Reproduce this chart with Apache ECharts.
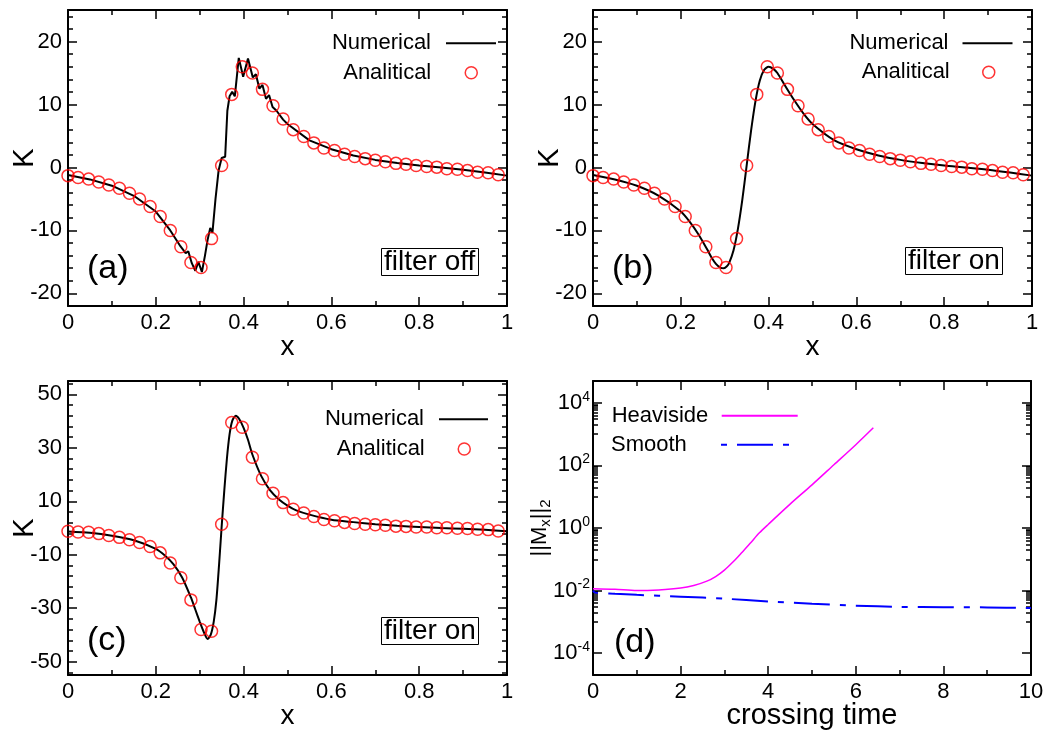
<!DOCTYPE html>
<html><head><meta charset="utf-8">
<script src="https://cdn.jsdelivr.net/npm/echarts@6/dist/echarts.min.js"></script>
<style>html,body{margin:0;padding:0;background:#fff}#c{width:1056px;height:731px}</style>
</head><body><div id="c"></div>
<script>
const FONT = '"Liberation Sans", Arial, Helvetica, sans-serif';

// ---- analytical points (shared x positions) ----
const anaX = [0,0.023,0.047,0.070,0.093,0.117,0.140,0.163,0.187,0.210,0.233,0.257,0.280,0.303,0.327,0.350,0.373,0.397,0.420,0.443,0.467,0.490,0.513,0.537,0.560,0.583,0.607,0.630,0.653,0.677,0.700,0.723,0.747,0.770,0.793,0.817,0.840,0.863,0.887,0.910,0.933,0.957,0.980];
const anaAB = [-1.3,-1.6,-1.85,-2.3,-2.8,-3.3,-4.1,-5.0,-6.2,-7.8,-10.0,-12.6,-15.1,-15.9,-11.3,0.3,11.6,16.0,15.0,12.4,9.8,7.7,6.0,4.9,3.9,3.1,2.7,2.1,1.75,1.4,1.15,0.9,0.65,0.5,0.3,0.15,0.05,-0.2,-0.3,-0.5,-0.75,-0.85,-1.15];
const anaC = [-1.2,-1.5,-1.6,-2.1,-2.8,-3.5,-4.4,-5.4,-6.9,-9.3,-13.1,-18.6,-26.9,-38.0,-38.6,1.4,39.5,37.7,26.5,18.4,13.0,9.5,7.0,5.6,4.3,3.2,2.7,2.1,1.7,1.4,1.2,1.0,0.7,0.6,0.4,0.4,0.1,0.1,-0.1,-0.2,-0.5,-0.6,-1.1];

// ---- numerical curves ----
const numAx = [0,0.05,0.1,0.15,0.2,0.233,0.256,0.268,0.274,0.282,0.290,0.297,0.305,0.312,0.318,0.324,0.329,0.336,0.343,0.350,0.358,0.363,0.368,0.374,0.380,0.389,0.399,0.410,0.421,0.428,0.436,0.443,0.451,0.458,0.466,0.475,0.49,0.5,0.55,0.6,0.65,0.7,0.75,0.8,0.85,0.9,0.95,1.0];
const numAy = [-1.2,-1.9,-2.9,-4.5,-7.0,-10.0,-12.5,-13.6,-13.3,-15.2,-16.4,-15.0,-16.6,-14.0,-11.5,-9.6,-10.4,-5.0,-0.5,1.5,1.7,9.0,11.3,12.0,11.3,17.4,14.4,17.3,14.3,14.8,12.5,13.1,10.9,11.5,9.6,9.0,7.6,6.9,4.3,2.9,1.9,1.2,0.7,0.3,0.0,-0.35,-0.8,-1.3];
const numBx = [0,0.05,0.1,0.15,0.2,0.22,0.24,0.26,0.27,0.28,0.29,0.298,0.305,0.31,0.32,0.33,0.34,0.35,0.36,0.37,0.38,0.39,0.40,0.41,0.42,0.44,0.46,0.48,0.5,0.55,0.6,0.65,0.7,0.75,0.8,0.85,0.9,0.95,1.0];
const numBy = [-1.2,-1.9,-2.9,-4.5,-7.0,-8.6,-10.6,-13.0,-14.3,-15.3,-15.9,-16.0,-15.7,-15.2,-13.2,-9.8,-5.2,0.3,5.8,10.5,13.8,15.5,16.0,15.7,15.0,12.7,10.5,8.5,6.9,4.3,2.9,1.9,1.2,0.7,0.3,0.0,-0.35,-0.8,-1.3];
const numCx = [0,0.05,0.1,0.15,0.2,0.22,0.24,0.26,0.28,0.29,0.30,0.31,0.318,0.325,0.332,0.338,0.344,0.350,0.356,0.362,0.368,0.374,0.382,0.39,0.40,0.41,0.42,0.44,0.46,0.48,0.5,0.52,0.55,0.6,0.65,0.7,0.75,0.8,0.85,0.9,0.95,1.0];
const numCy = [-1.3,-1.8,-2.9,-4.6,-7.8,-10.2,-13.5,-18.5,-26.0,-30.5,-35.0,-39.2,-41.5,-40.0,-35.0,-27.0,-14.0,0.5,14.0,26.0,35.0,40.0,42.0,40.8,37.5,33.0,27.5,19.5,14.2,10.8,8.4,6.6,5.0,3.1,2.2,1.4,0.8,0.4,0.0,-0.3,-0.7,-1.2];

// ---- panel (d) ----
const heavT = [0,0.5,1.0,1.5,2.0,2.3,2.6,2.8,3.0,3.2,3.4,3.6,3.8,4.0,4.5,5.0,5.5,6.0,6.4];
const heavV = [1.15e-2,1.1e-2,1.0e-2,1.05e-2,1.2e-2,1.45e-2,2.0e-2,2.8e-2,4.5e-2,8.3e-2,0.166,0.34,0.7,1.3,5.8,24,105,460,1600];
const smoothT = [0,0.05,0.5,1,2,3,4,5,6,7,8,9,10];
const smoothV = [1.0e-2,8.6e-3,7.9e-3,7.3e-3,6.4e-3,5.5e-3,4.5e-3,3.8e-3,3.3e-3,3.0e-3,2.95e-3,2.9e-3,2.75e-3];

// ---- ticks ----
const xMajorK = [0,0.2,0.4,0.6,0.8,1];
const xMinorK = [0.1,0.3,0.5,0.7,0.9];
const yMajorAB = [-20,-10,0,10,20];
const yMinorAB = [-18,-16,-14,-12,-8,-6,-4,-2,2,4,6,8,12,14,16,18,22,24];
const yMajorC = [-50,-30,-10,10,30,50];
const yMinorC = [-54,-46,-42,-38,-34,-26,-22,-18,-14,-6,-2,2,6,14,18,22,26,34,38,42,46,54];
const xMajorD = [0,2,4,6,8,10];
const xMinorD = [1,3,5,7,9];
const yMajorD = [1e-4,1e-2,1,1e2,1e4];
const yMinorD = [];
[-4,-2,0,2].forEach(n => { for (let k = 1; k <= 9; k++) yMinorD.push(+(k * Math.pow(10, n + 1)).toPrecision(3)); });

const zip = (a, b) => a.map((v, i) => [v, b[i]]);

function makeAxes(dim, g, o) {
  const mainPos = dim === 'x' ? 'bottom' : 'left';
  const mirPos = dim === 'x' ? 'top' : 'right';
  const base = { gridIndex: g, type: o.type || 'value', min: o.min, max: o.max, splitLine: { show: false }, silent: true };
  if (o.type === 'log') base.logBase = 10;
  const ts = { color: '#000', width: 1.5 };
  const line = { show: true, onZero: false, lineStyle: { color: '#000', width: 2 } };
  const noLine = { show: false, onZero: false };
  return [
    Object.assign({}, base, {
      position: mainPos, axisLine: line,
      axisTick: { show: true, inside: true, length: 9, lineStyle: ts, customValues: o.majors },
      axisLabel: { show: true, customValues: o.majors, margin: o.margin, color: '#000', fontSize: 22, fontFamily: FONT, formatter: o.fmt, rich: o.rich },
      name: o.name, nameLocation: 'middle', nameGap: o.nameGap, nameRotate: dim === 'y' ? 90 : 0, nameMoveOverlap: false,
      nameTextStyle: Object.assign({ color: '#000', fontFamily: FONT, fontSize: o.nameSize || 28 }, o.nameStyle || {})
    }),
    Object.assign({}, base, { position: mainPos, axisLine: noLine, axisTick: { show: true, inside: true, length: 5, lineStyle: ts, customValues: o.minors }, axisLabel: { show: false } }),
    Object.assign({}, base, { position: mirPos, axisLine: line, axisTick: { show: true, inside: true, length: 9, lineStyle: ts, customValues: o.majors }, axisLabel: { show: false } }),
    Object.assign({}, base, { position: mirPos, axisLine: noLine, axisTick: { show: true, inside: true, length: 5, lineStyle: ts, customValues: o.minors }, axisLabel: { show: false } })
  ];
}

const grids = [
  { left: 68, top: 10, width: 439, height: 296 },
  { left: 593, top: 10, width: 439, height: 296 },
  { left: 68, top: 381, width: 439, height: 296 },
  { left: 593, top: 381, width: 438, height: 296 }
];

let xAxes = [], yAxes = [];
for (let g = 0; g < 3; g++) {
  xAxes = xAxes.concat(makeAxes('x', g, { min: 0, max: 1, majors: xMajorK, minors: xMinorK, margin: 6, name: 'x', nameGap: 27 }));
}
xAxes = xAxes.concat(makeAxes('x', 3, { min: 0, max: 10, majors: xMajorD, minors: xMinorD, margin: 6, name: 'crossing time', nameGap: 26, nameSize: 29 }));
yAxes = yAxes.concat(makeAxes('y', 0, { min: -22, max: 25, majors: yMajorAB, minors: yMinorAB, margin: 6, name: 'K', nameGap: 29, nameSize: 29 }));
yAxes = yAxes.concat(makeAxes('y', 1, { min: -22, max: 25, majors: yMajorAB, minors: yMinorAB, margin: 6, name: 'K', nameGap: 29, nameSize: 29 }));
yAxes = yAxes.concat(makeAxes('y', 2, { min: -55, max: 55, majors: yMajorC, minors: yMinorC, margin: 6, name: 'K', nameGap: 29, nameSize: 29 }));
yAxes = yAxes.concat(makeAxes('y', 3, {
  type: 'log', min: 2e-5, max: 5e4, majors: yMajorD, minors: yMinorD, margin: 3,
  fmt: v => '{b|10}{e|' + Math.round(Math.log10(v)) + '}',
  rich: { b: { fontSize: 22, fontFamily: FONT, color: '#000', lineHeight: 26 }, e: { fontSize: 14, fontFamily: FONT, color: '#000', lineHeight: 14, verticalAlign: 'top' } },
  name: '{n|||M}{s|x}{n|||}{s|2}', nameGap: 40,
  nameStyle: { rich: { n: { fontSize: 22, fontFamily: FONT, color: '#000', lineHeight: 26 }, s: { fontSize: 15, fontFamily: FONT, color: '#000', lineHeight: 15, verticalAlign: 'bottom' } } }
}));

const numStyle = { color: '#000', width: 2 };
const anaItem = { color: 'rgba(0,0,0,0)', borderColor: '#ff0000', borderWidth: 1.5 };
function numSeries(g, xs, ys, smooth) {
  return { name: 'Numerical', type: 'line', xAxisIndex: 4 * g, yAxisIndex: 4 * g, data: zip(xs, ys), symbol: 'none', smooth: smooth, lineStyle: numStyle, itemStyle: { color: '#000' }, z: 2, silent: true, animation: false };
}
function anaSeries(g, ys) {
  return { name: 'Analitical', type: 'scatter', xAxisIndex: 4 * g, yAxisIndex: 4 * g, data: zip(anaX, ys), symbol: 'circle', symbolSize: 12, itemStyle: anaItem, z: 3, silent: true, animation: false };
}
const series = [
  numSeries(0, numAx, numAy, false), anaSeries(0, anaAB),
  numSeries(1, numBx, numBy, 0.25), anaSeries(1, anaAB),
  numSeries(2, numCx, numCy, 0.25), anaSeries(2, anaC),
  { name: 'Heaviside', type: 'line', xAxisIndex: 12, yAxisIndex: 12, data: zip(heavT, heavV), symbol: 'none', smooth: 0.3, lineStyle: { color: '#ff00ff', width: 1.5 }, itemStyle: { color: '#ff00ff' }, animation: false },
  { name: 'Smooth', type: 'line', xAxisIndex: 12, yAxisIndex: 12, data: zip(smoothT, smoothV), symbol: 'none', smooth: 0.3, lineStyle: { color: '#0000ff', width: 2, type: [6, 10, 36, 10] }, itemStyle: { color: '#0000ff' }, animation: false }
];

const legTS = { fontSize: 22, fontFamily: FONT, color: '#000', lineHeight: 26 };
const hideSym = { color: 'rgba(0,0,0,0)', borderWidth: 0, borderColor: 'rgba(0,0,0,0)' };
function leg(name, right, cy, w, pad, isLine) {
  return { data: [name], orient: 'vertical', align: 'right', right: right, top: cy - 13, padding: 0, itemWidth: w, itemHeight: 12, selectedMode: false,
    textStyle: Object.assign({}, legTS, { padding: [0, pad, 0, 0] }), itemStyle: isLine ? hideSym : { borderWidth: 1.5 } };
}
function legD(name, right, cy) {
  return { data: [name], orient: 'vertical', align: 'right', right: right, top: cy - 13, padding: 0, itemWidth: 76, itemHeight: 12, selectedMode: false,
    formatter: '{t|{name}}', itemStyle: hideSym, textStyle: { rich: { t: Object.assign({}, legTS, { width: 105, align: 'left' }) } } };
}
const legends = [
  leg('Numerical', 559, 43.3, 50, 10, true), leg('Analitical', 578, 72.7, 50, 10, false),
  leg('Numerical', 42.5, 43.3, 50, 9, true), leg('Analitical', 60.5, 72.3, 50, 9, false),
  leg('Numerical', 567, 419.3, 49, 10, true), leg('Analitical', 585, 449, 49, 10, false),
  legD('Heaviside', 257.3, 417.7), legD('Smooth', 258, 446.7)
];

const lblTS = { fontSize: 34, fontWeight: 'normal', fontFamily: FONT, color: '#000' };
const boxTS = { fontSize: 28, fontWeight: 'normal', fontFamily: FONT, color: '#000', lineHeight: 28 };
const titles = [
  { text: '(a)', left: 87, top: 252, padding: 0, textStyle: lblTS },
  { text: '(b)', left: 612, top: 252, padding: 0, textStyle: lblTS },
  { text: '(c)', left: 87, top: 624, padding: 0, textStyle: lblTS },
  { text: '(d)', left: 614, top: 626, padding: 0, textStyle: lblTS },
  { text: 'filter off', left: 381, top: 248, padding: [0, 3, 0, 3], borderColor: '#000', borderWidth: 1, textStyle: boxTS },
  { text: 'filter on', left: 905, top: 247, padding: [0, 3, 0, 3], borderColor: '#000', borderWidth: 1, textStyle: boxTS },
  { text: 'filter on', left: 381, top: 617, padding: [0, 3, 0, 3], borderColor: '#000', borderWidth: 1, textStyle: boxTS }
];

const chart = echarts.init(document.getElementById('c'), null, { renderer: 'canvas' });
chart.setOption({
  backgroundColor: '#fff',
  animation: false,
  textStyle: { fontFamily: FONT },
  title: titles,
  legend: legends,
  grid: grids,
  xAxis: xAxes,
  yAxis: yAxes,
  series: series
});
</script></body></html>
